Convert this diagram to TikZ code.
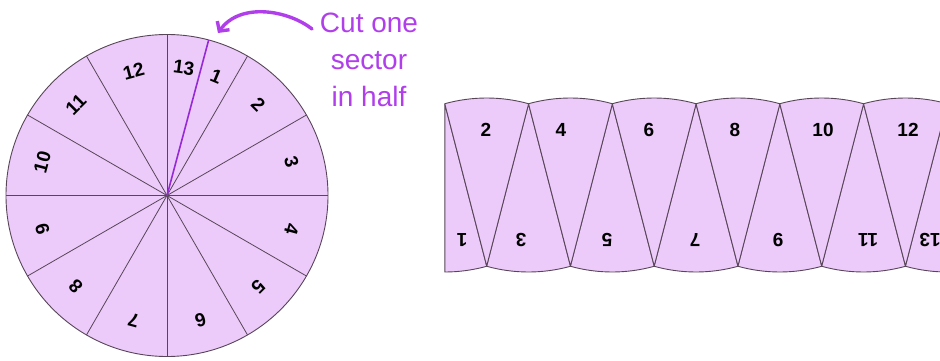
\documentclass[tikz,border=0pt]{standalone}
\usepackage{fontspec}
\setmainfont{Liberation Sans}
\usepackage{xcolor}
\usepackage{tikz}
\usetikzlibrary{arrows.meta}
\definecolor{softlilac}{RGB}{236,202,250}
\definecolor{edgegray}{RGB}{88,70,88}
\definecolor{cutpurple}{RGB}{176,62,234}
\definecolor{linepurple}{RGB}{150,42,214}

\begin{document}
\begin{tikzpicture}[x=1pt,y=1pt,>=latex,
    sector/.style={fill=softlilac,draw=edgegray,line width=0.9pt,line join=round},
    lbl/.style={font=\bfseries\fontsize{19}{21}\selectfont,inner sep=0pt},
    note/.style={text=cutpurple,font=\fontsize{28}{37}\selectfont,align=center,inner sep=0pt}]
        \useasboundingbox (0,0) rectangle (940,360);
        \clip (0,0) rectangle (940,360);
        % the wheel
        \coordinate (ctr) at (167,164.5);
        \fill[softlilac] (ctr) circle[radius=161];
        \foreach \a in {0,30,...,330}
          \draw[edgegray,line width=0.8pt] (ctr) -- ++(\a:161);
        \draw[edgegray,line width=0.9pt] (ctr) circle[radius=161];
        \coordinate (cutend) at ([shift={(75:161)}]ctr);
        \draw[linepurple,line width=1.6pt] (ctr) -- (cutend);
        \foreach \n/\a in {13/82.5,1/67.5,2/45,3/15,4/-15,5/-45,6/-75,
                           7/-105,8/-135,9/-165,10/165,11/135,12/105}
          \node[lbl,rotate=\a-90] (w\n) at ([shift={(\a:129)}]ctr) {\n};
        % note and arrow
        \node[note,anchor=north] (note) at (369,347) {Cut one\\sector\\in half};
        \coordinate (tail) at (312,331);
        \coordinate (tip) at (218,327);
        \draw[-{Straight Barb[length=7pt,width=15pt]},cutpurple,line width=3.4pt,line cap=round]
          (tail) .. controls (288,350) and (240,358) .. (tip);
        % the unrolled strip
        \path[sector] (444.8,256) -- ++(270:162 and 168)
          arc[start angle=270,end angle=285,x radius=162,y radius=168] -- cycle;
        \foreach \k in {1,...,5}{
          \pgfmathsetmacro\tx{444.8+83.75*\k}
          \path[sector] (\tx,256) -- ++(255:162 and 168)
            arc[start angle=255,end angle=285,x radius=162,y radius=168] -- cycle;
        }
        \path[sector] (947.3,256) -- ++(255:162 and 168)
          arc[start angle=255,end angle=270,x radius=162,y radius=168] -- cycle;
        \foreach \k in {0,...,5}{
          \pgfmathsetmacro\bx{486.7+83.75*\k}
          \path[sector] (\bx,94) -- ++(75:162 and 168)
            arc[start angle=75,end angle=105,x radius=162,y radius=168] -- cycle;
        }
        \foreach \n/\x in {2/486,4/561,6/649,8/735,10/823,12/908}
          \node[lbl] (s\n) at (\x,230) {\n};
        \foreach \n/\x in {1/462,3/521,5/607,7/695,9/778,11/868,13/930}
          \node[lbl,rotate=180] (s\n) at (\x,120) {\n};
      \end{tikzpicture}
\end{document}
